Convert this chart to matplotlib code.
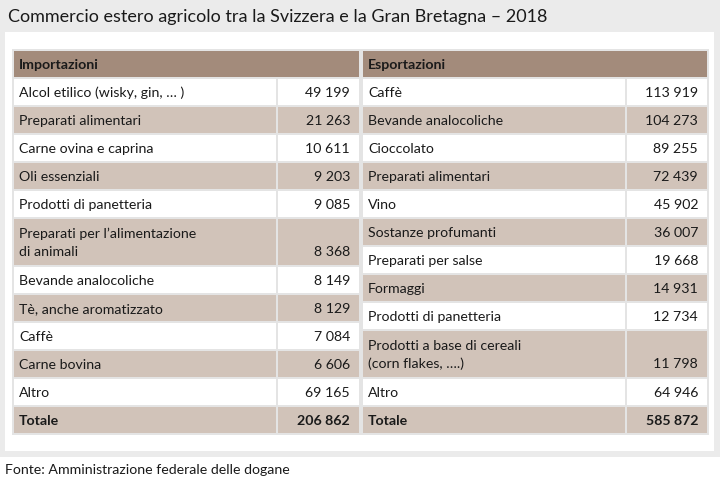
import matplotlib
matplotlib.use("Agg")
import matplotlib.pyplot as plt
from matplotlib.patches import Rectangle

plt.rcParams['font.family'] = ['Lato', 'DejaVu Sans']

title = "Commercio estero agricolo tra la Svizzera e la Gran Bretagna – 2018"
source = "Fonte: Amministrazione federale delle dogane"

imp_header = "Importazioni"
imp_labels = ["Alcol etilico (wisky, gin, … )", "Preparati alimentari", "Carne ovina e caprina",
              "Oli essenziali", "Prodotti di panetteria", "Preparati per l’alimentazione\ndi animali",
              "Bevande analocoliche", "Tè, anche aromatizzato", "Caffè", "Carne bovina", "Altro"]
imp_values = [49199, 21263, 10611, 9203, 9085, 8368, 8149, 8129, 7084, 6606, 69165]
imp_total = 206862

exp_header = "Esportazioni"
exp_labels = ["Caffè", "Bevande analocoliche", "Cioccolato", "Preparati alimentari", "Vino",
              "Sostanze profumanti", "Preparati per salse", "Formaggi", "Prodotti di panetteria",
              "Prodotti a base di cereali\n(corn flakes, ….)", "Altro"]
exp_values = [113919, 104273, 89255, 72439, 45902, 36007, 19668, 14931, 12734, 11798, 64946]
exp_total = 585872

total_label = "Totale"

BG = "#ebebeb"
GAP = "#e4e4e4"
HEAD = "#a38b7b"
SHADE = "#d1c3b9"
TXT = "#1a1a1a"
FS = 10.2

def fmt(v):
    return f"{v:,}".replace(",", " ")

fig = plt.figure(figsize=(7.2, 4.87), dpi=100)
fig.patch.set_facecolor("white")
ax = fig.add_axes([0, 0, 1, 1])
ax.set_xlim(0, 720)
ax.set_ylim(487, 0)
ax.axis("off")

ax.add_patch(Rectangle((0, 0), 720, 457, color=BG, lw=0))
ax.add_patch(Rectangle((5, 32), 709, 419, color="white", lw=0))

ax.text(8, 17, title, fontsize=13, va="center", ha="left", color=TXT)
ax.text(5, 470, source, fontsize=FS, va="center", ha="left", color=TXT)

def draw_table(x0, xm, x1, header, labels, values, total):
    top = 50
    single = 28
    double = 48
    heights = [single] + [double if "\n" in l else single for l in labels] + [single]
    bottom = top + sum(heights)
    ax.add_patch(Rectangle((x0 - 1, top - 1), x1 - x0 + 2, bottom - top + 2, color=GAP, lw=0))
    # header
    ax.add_patch(Rectangle((x0 + 1, top + 1), x1 - x0 - 2, single - 2, color=HEAD, lw=0))
    ax.text(x0 + 6, top + single / 2 + 1, header, fontsize=FS, fontweight="bold",
            va="center", ha="left", color=TXT)
    y = top + single
    rows = list(zip(labels, values)) + [(total_label, total)]
    for i, (lab, val) in enumerate(rows):
        h = heights[i + 1]
        col = "white" if i % 2 == 0 else SHADE
        if i == len(rows) - 1:
            col = SHADE
        ax.add_patch(Rectangle((x0 + 1, y + 1), xm - x0 - 2, h - 2, color=col, lw=0))
        ax.add_patch(Rectangle((xm + 1, y + 1), x1 - xm - 2, h - 2, color=col, lw=0))
        bold = "bold" if i == len(rows) - 1 else "normal"
        lines = lab.split("\n")
        if len(lines) == 1:
            ax.text(x0 + 6, y + h / 2 + 1, lab, fontsize=FS, fontweight=bold,
                    va="center", ha="left", color=TXT)
            vy = y + h / 2 + 1
        else:
            ax.text(x0 + 6, y + 16, lines[0], fontsize=FS, va="center", ha="left", color=TXT)
            ax.text(x0 + 6, y + 34, lines[1], fontsize=FS, va="center", ha="left", color=TXT)
            vy = y + 34
        ax.text(x1 - 10, vy, fmt(val), fontsize=FS, fontweight=bold,
                va="center", ha="right", color=TXT)
        y += h

draw_table(13, 277, 360, imp_header, imp_labels, imp_values, imp_total)
draw_table(362, 626, 708, exp_header, exp_labels, exp_values, exp_total)

fig.savefig("out.png", dpi=100, facecolor=fig.get_facecolor())
